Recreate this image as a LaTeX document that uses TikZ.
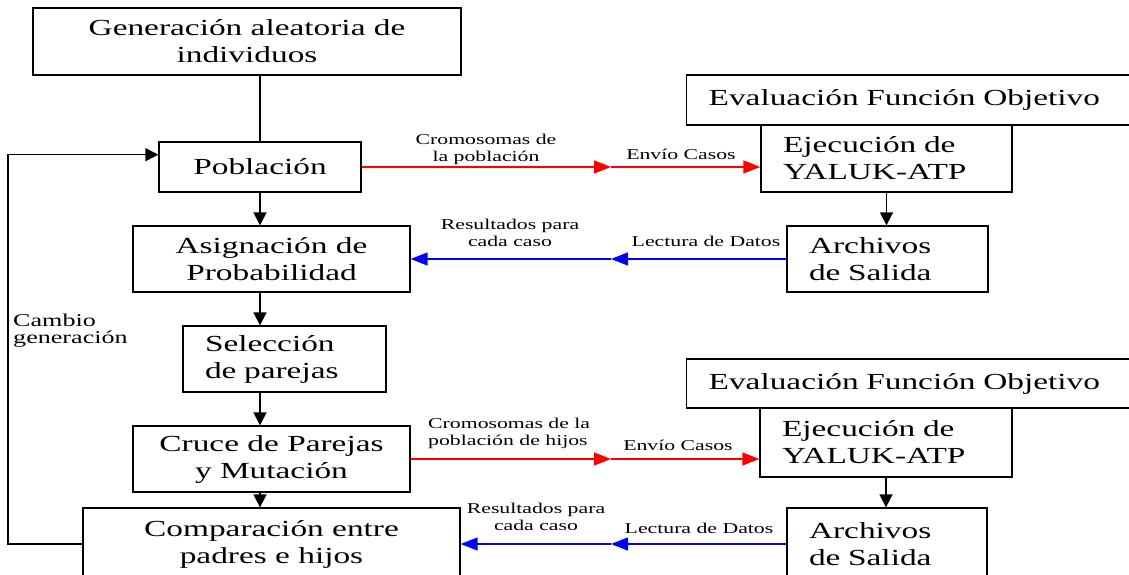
\documentclass[tikz,border=0pt]{standalone}
\usepackage{fontspec}
\setmainfont{Liberation Serif}[FakeStretch=1.45]
\usetikzlibrary{arrows.meta,calc}
\definecolor{envio}{RGB}{255,0,0}
\definecolor{lectura}{RGB}{0,0,255}
\newcommand{\grande}{\fontsize{23}{27}\selectfont}
\newcommand{\chica}{\fontsize{15}{17}\selectfont}
\tikzset{
  caja/.style={draw, line width=1.3pt, inner sep=0pt, align=center, font=\grande},
  cajaizq/.style={caja, align=left, inner xsep=22pt, text width=#1},
  paso/.style={-{Triangle[length=13pt,width=13pt]}, line width=1.6pt},
  envia/.style={-{Triangle[length=17pt,width=13pt]}, line width=1.4pt, envio},
  lee/.style={-{Triangle[length=17pt,width=13pt]}, line width=1.4pt, lectura},
  rotulo/.style={font=\chica, inner sep=0pt, align=center}
}

\begin{document}
\begin{tikzpicture}[x=1pt, y=-1pt]
\useasboundingbox (0,0) rectangle (1129,575);
\clip (0,0) rectangle (1129,575);
% columna izquierda
\node[caja, minimum width=428pt, minimum height=67pt] (gen) at (247,41.5) {Generación aleatoria de\\individuos};
\node[caja, minimum width=202pt, minimum height=50pt] (pob) at (260,167) {Población};
\node[caja, minimum width=277pt, minimum height=66pt] (asig) at (271.5,259) {Asignación de\\Probabilidad};
\node[cajaizq=159pt, minimum height=66pt] (sel) at (284.5,359) {Selección\\de parejas};
\node[caja, minimum width=277pt, minimum height=66pt] (cruce) at (271.5,459) {Cruce de Parejas\\y Mutación};
\node[caja, minimum width=377pt, minimum height=72pt] (comp) at (271.5,544) {Comparación entre\\padres e hijos};
% evaluacion arriba
\node[cajaizq=426pt, minimum height=50pt, anchor=west] (eval1) at (686,100) {Evaluación Función Objetivo};
\node[cajaizq=207pt, minimum height=67pt] (ejec1) at (886.5,158.5) {Ejecución de\\YALUK-ATP};
\node[cajaizq=157pt, minimum height=66pt] (arch1) at (887.5,259) {Archivos\\de Salida};
% evaluacion abajo
\node[cajaizq=426pt, minimum height=49pt, anchor=west] (eval2) at (686,383.5) {Evaluación Función Objetivo};
\node[cajaizq=208pt, minimum height=69pt] (ejec2) at (886,442.5) {Ejecución de\\YALUK-ATP};
\node[cajaizq=156pt, minimum height=72pt] (arch2) at (887,544) {Archivos\\de Salida};

\coordinate (medio) at (611,0);
\coordinate (izq) at (8,0);

\draw[line width=1.6pt] (pob.north) -- (pob.north |- gen.south);
\draw[paso] (pob.south) -- (pob.south |- asig.north);
\draw[paso] (pob.south |- asig.south) -- (pob.south |- sel.north);
\draw[paso] (pob.south |- sel.south) -- (pob.south |- cruce.north);
\draw[paso] (pob.south |- cruce.south) -- (pob.south |- comp.north);
\draw[paso] (ejec1.south) -- (ejec1.south |- arch1.north);
\draw[paso] (ejec2.south) -- (ejec2.south |- arch2.north);
\draw[paso] (comp.west) -- (comp.west -| izq) |- ($(pob.north west)!.26!(pob.south west)$);

\draw[envia] (pob.east) -- (pob.east -| medio);
\draw[envia] (pob.east -| medio) -- (pob.east -| ejec1.west);
\draw[lee] (arch1.west) -- (arch1.west -| medio);
\draw[lee] (arch1.west -| medio) -- (asig.east);
\draw[envia] (cruce.east) -- (cruce.east -| medio);
\draw[envia] (cruce.east -| medio) -- (cruce.east -| ejec2.west);
\draw[lee] (arch2.west) -- (arch2.west -| medio);
\draw[lee] (arch2.west -| medio) -- (arch2.west -| comp.east);

% rotulos
\node[rotulo] (crom1) at (486,149) {Cromosomas de\\la población};
\node[rotulo] (envio1) at (681,154) {Envío Casos};
\node[rotulo] (res1) at (510,232.5) {Resultados para\\cada caso};
\node[rotulo] (lect1) at (706,241) {Lectura de Datos};
\node[rotulo, align=left, anchor=west] (crom2) at (428,433) {Cromosomas de la\\población de hijos};
\node[rotulo] (envio2) at (678,445) {Envío Casos};
\node[rotulo] (res2) at (536,516.5) {Resultados para\\cada caso};
\node[rotulo] (lect2) at (699,528) {Lectura de Datos};
\node[rotulo, align=left, anchor=west, font=\fontsize{18}{17}\selectfont] (cambio) at (13,330.5) {Cambio\\generación};
\end{tikzpicture}
\end{document}
